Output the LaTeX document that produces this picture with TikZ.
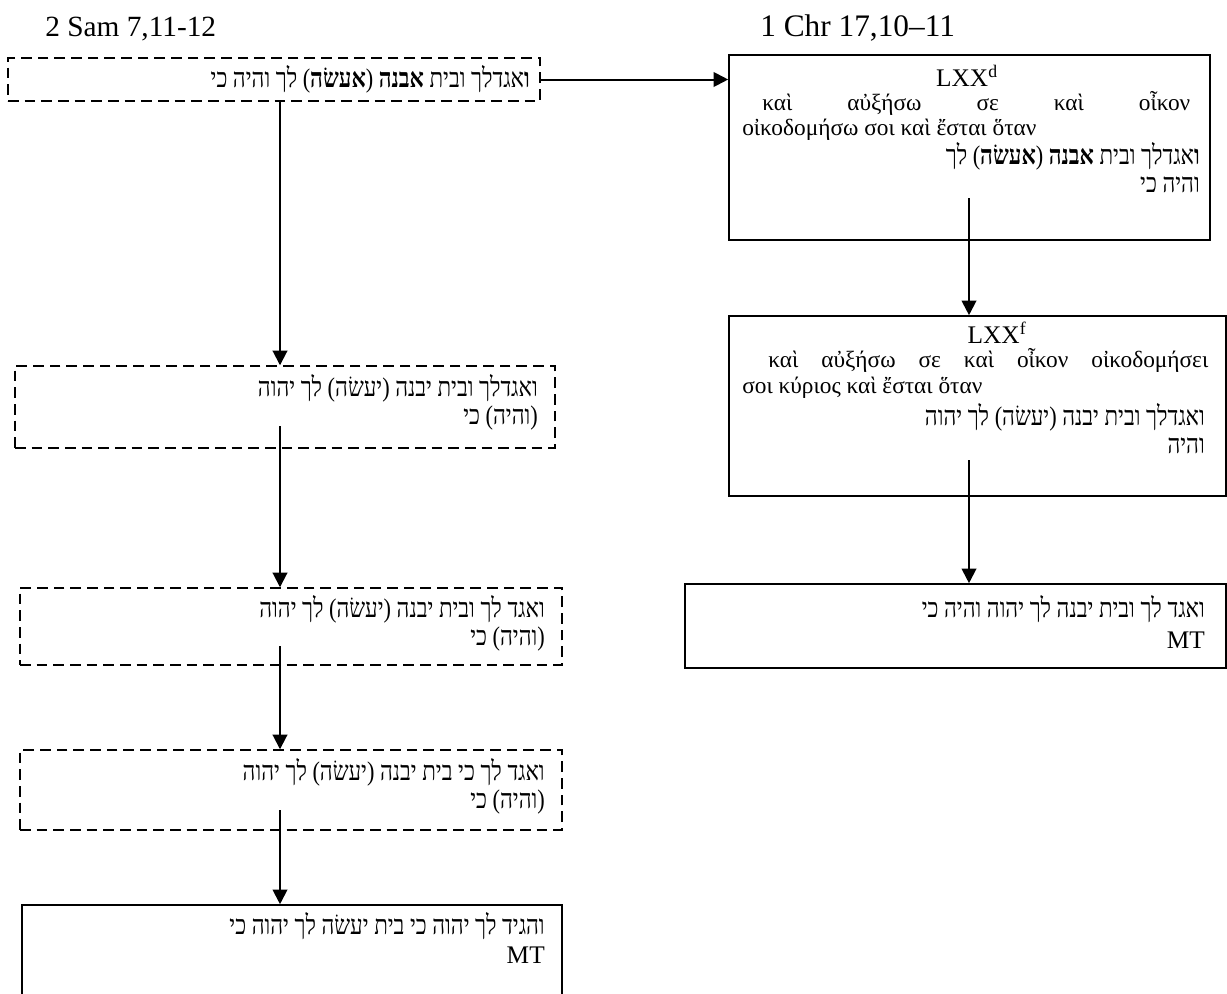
\documentclass[tikz,border=0pt]{standalone}
\usepackage{fontspec}
\usepackage{graphicx}
\setmainfont{Liberation Serif}
\newfontfamily\hebfont[Script=Hebrew]{Liberation Serif}
\newfontfamily\grkfont[Script=Greek]{Liberation Serif}
\TeXXeTstate=1
\usetikzlibrary{arrows.meta,fit}
\newcommand{\hb}[1]{\scalebox{0.93}[1.12]{\hebfont\beginR #1\endR}}
\tikzset{
  x=0.75pt, y=-0.75pt,
  solidbox/.style={draw, line width=1.2pt, inner sep=0pt},
  dashbox/.style={draw, line width=1.1pt, dash pattern=on 8pt off 4.5pt, inner sep=0pt},
  hebt/.style={inner sep=0pt, anchor=base east, font=\fontsize{18pt}{20pt}\selectfont},
  grkt/.style={inner sep=0pt, anchor=base west, font=\fontsize{17.5pt}{20pt}\selectfont\grkfont},
  latt/.style={inner sep=0pt, font=\fontsize{19pt}{21pt}\selectfont},
  headt/.style={inner sep=0pt, anchor=base west, font=\fontsize{22pt}{26pt}\selectfont},
  conn/.style={line width=1.5pt, -{Triangle[width=11pt,length=11pt]}},
}
\begin{document}
\begin{tikzpicture}
\clip (0,0) rectangle (1227,993);
\useasboundingbox (0,0) rectangle (1227,993);

% headers
\node[headt] (h1) at (45,36) {2 Sam 7,11-12};
\node[headt, font=\fontsize{23.5pt}{26pt}\selectfont] (h2) at (760,36) {1 Chr 17,10–11};

% left column boxes
\node[dashbox, fit={(8,58) (540,101)}] (A) {};
\node[hebt] (A1) at (530,87) {\hb{\textbf{ו}אגדלך ובית \textbf{אבנה} (\textbf{אעשׂה}) לך והיה כי}};

\node[dashbox, fit={(15,366) (555,448)}] (B) {};
\node[hebt] (B1) at (538,396) {\hb{ואגדלך ובית יבנה (יעשׂה) לך יהוה}};
\node[hebt] (B2) at (538,424) {\hb{(והיה) כי}};

\node[dashbox, fit={(20,588) (562,665)}] (C) {};
\node[hebt] (C1) at (545,617) {\hb{ואגד לך ובית יבנה (יעשׂה) לך יהוה}};
\node[hebt] (C2) at (545,645) {\hb{(והיה) כי}};

\node[dashbox, fit={(20,750) (562,830)}] (E) {};
\node[hebt] (E1) at (545,780) {\hb{ואגד לך כי בית יבנה (יעשׂה) לך יהוה}};
\node[hebt] (E2) at (545,808) {\hb{(והיה) כי}};

\node[solidbox, fit={(22,905) (562,1000)}] (G) {};
\node[hebt] (G1) at (545,934) {\hb{והגיד לך יהוה כי בית יעשׂה לך יהוה כי}};
\node[latt, anchor=base east] (G2) at (545,963) {MT};

% right column boxes
\node[solidbox, fit={(729,55) (1210,240)}] (D) {};
\node[latt, anchor=base] (D0) at (967,86) {LXX\textsuperscript{d}};
\node[grkt] (D1) at (762,110) {\makebox[321pt][s]{καὶ αὐξήσω σε καὶ οἶκον}};
\node[grkt] (D2) at (742,135) {οἰκοδομήσω σοι καὶ ἔσται ὅταν};
\node[hebt] (D3) at (1200,164) {\hb{\textbf{ו}אגדלך ובית \textbf{אבנה} (\textbf{אעשׂה}) לך}};
\node[hebt] (D4) at (1200,192) {\hb{והיה כי}};

\node[solidbox, fit={(729,316) (1226,496)}] (F) {};
\node[latt, anchor=base] (F0) at (997,343) {LXX\textsuperscript{f}};
\node[grkt] (F1) at (768,367) {\makebox[330pt][s]{καὶ αὐξήσω σε καὶ οἶκον οἰκοδομήσει}};
\node[grkt] (F2) at (742,393) {σοι κύριος καὶ ἔσται ὅταν};
\node[hebt] (F3) at (1205,425) {\hb{ואגדלך ובית יבנה (יעשׂה) לך יהוה}};
\node[hebt] (F4) at (1205,453) {\hb{והיה}};

\node[solidbox, fit={(685,584) (1226,668)}] (M) {};
\node[hebt] (M1) at (1205,617) {\hb{ואגד לך ובית יבנה לך יהוה והיה כי}};
\node[latt, anchor=base east] (M2) at (1205,648) {MT};

% connector start points inside boxes
\coordinate (sB) at (280,426);
\coordinate (sC) at (280,646);
\coordinate (sE) at (280,810);
\coordinate (sD) at (969,198);
\coordinate (sF) at (969,460);

% connectors
\draw[conn] (A.east) -- (A.east -| D.west);
\draw[conn] (A.south -| sB) -- (sB |- B.north);
\draw[conn] (sB) -- (sB |- C.north);
\draw[conn] (sC) -- (sC |- E.north);
\draw[conn] (sE) -- (sE |- G.north);
\draw[conn] (sD) -- (sD |- F.north);
\draw[conn] (sF) -- (sF |- M.north);
\end{tikzpicture}
\end{document}
